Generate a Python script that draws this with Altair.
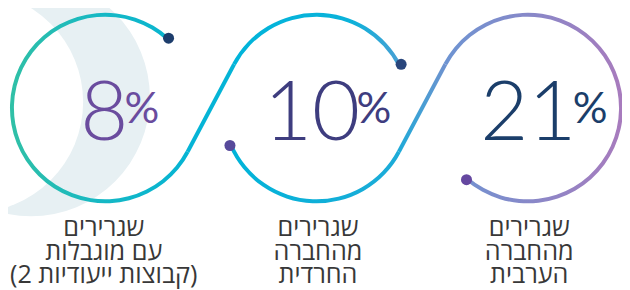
import math
import altair as alt
import pandas as pd

# ---- data (right-to-left order, as in the reference) ----
groups = [
    "שגרירים\nמהחברה\nהערבית",
    "שגרירים\nמהחברה\nהחרדית",
    "שגרירים\nעם מוגבלות\n\u2066(2 קבוצות ייעודיות)\u2069",
]
values = [21, 10, 8]

df = pd.DataFrame({"group": groups, "value": values})

# ---- layout / style constants (page px, shifted by 8px page margin) ----
OFF = 8
CY = 107.5
R = 94.5
CENTERS = [534.5, 320.5, 106.5]
DIGIT_CENTERS = [535, 316, 105.5]
PCT_LEFT = [580, 361, 126]
LABEL_CENTERS = [536, 322, 105]
NUM_COLORS = ["#1B3E6A", "#3E3D7F", "#6A4C9E"]
TEXT_COLOR = "#383838"
PALE = "#E7F0F3"

one = alt.Data(values=[{"k": 0}])


def grad(stops, x1=0, y1=0, x2=1, y2=0):
    return alt.LinearGradient(
        gradient="linear",
        stops=[alt.GradientStop(color=c, offset=o) for o, c in stops],
        x1=x1, y1=y1, x2=x2, y2=y2,
    )


def disk(cx, cy, r, color):
    return alt.Chart(one).mark_arc(
        theta=0, theta2=2 * math.pi, radius=r, fill=color, strokeWidth=0
    ).encode(x=alt.value(cx - OFF), y=alt.value(cy - OFF))


def ring(cx, t0, t1, g):
    return alt.Chart(one).mark_arc(
        theta=math.radians(t0), theta2=math.radians(t1),
        radius=R + 2, radius2=R - 2, fill=g, strokeWidth=0,
    ).encode(x=alt.value(cx - OFF), y=alt.value(CY - OFF))


def polar(cx, ang, r=R):
    a = math.radians(ang)
    return cx + r * math.sin(a), CY - r * math.cos(a)


def dot(cx, ang, color, r=R):
    px, py = polar(cx, ang, r)
    return alt.Chart(one).mark_circle(size=125, color=color, opacity=1).encode(
        x=alt.value(px - OFF), y=alt.value(py - OFF)
    )


half = (CENTERS[1] - CENTERS[2]) / 2
alpha = math.acos(R / half)
tx, ty = R * math.cos(alpha), R * math.sin(alpha)
a_lr = 90 + math.degrees(alpha)     # lower-right tangent point
a_ul = 270 + math.degrees(alpha)    # upper-left tangent point


def link(c_from, c_to, g):
    return alt.Chart(one).mark_rule(strokeWidth=4, stroke=g, strokeCap="butt").encode(
        x=alt.value(c_from + tx - OFF), y=alt.value(CY + ty - OFF),
        x2=alt.value(c_to - tx - OFF), y2=alt.value(CY - ty - OFF),
    )


c_right, c_mid, c_left = CENTERS

layers = [
    disk(31.3, 96.7, 120.4, PALE),
    disk(-28.1, 101.4, 112.2, "#FFFFFF"),
    ring(c_left, a_lr, 402.2, grad([(0, "#30C0A6"), (0.5, "#16B8C4"), (1, "#05B4D4")])),
    link(c_left, c_mid, grad([(0, "#05B4D6"), (1, "#05B4D6")])),
    ring(c_mid, a_ul, 422.7, grad([(0, "#00B4DA"), (0.7, "#0BB2DA"), (1, "#4A9FD4")])),
    ring(c_mid, a_lr, 246.6, grad([(0, "#00B4D9"), (1, "#1DABD8")])),
    link(c_mid, c_right, grad([(0, "#1FAAD8"), (1, "#6F92CF")], x1=0, y1=1, x2=1, y2=0)),
    ring(c_right, a_ul, 580.5, grad([(0, "#6D94D2"), (0.45, "#8689C9"), (1, "#A87BBD")])),
    dot(c_left, 42.2, "#1D3D6C", R + 1),
    dot(c_mid, 62.7, "#29467C", R + 2),
    dot(c_mid, 246.6, "#574A9B", R + 1),
    dot(c_right, 220.5, "#6548A0", R + 1),
]

base = alt.Chart(df).transform_window(idx="row_number()")


def xpos(rng):
    return alt.X("idx:Q", scale=alt.Scale(domain=[1, 2, 3], range=[v - OFF for v in rng]), axis=None)


col = alt.Color("group:N", scale=alt.Scale(domain=groups, range=NUM_COLORS), legend=None)

digits = base.mark_text(
    font="Lato", fontWeight=300, fontSize=84, align="center", baseline="alphabetic"
).encode(x=xpos(DIGIT_CENTERS), y=alt.value(140 - OFF), text=alt.Text("value:Q"), color=col)

pct = base.mark_text(
    font="Lato", fontWeight=400, fontSize=44, align="left", baseline="alphabetic"
).encode(x=xpos(PCT_LEFT), y=alt.value(123 - OFF), text=alt.value("%"), color=col)

labels = base.mark_text(
    font="Open Sans, Liberation Sans, DejaVu Sans", fontSize=25.5, align="center",
    baseline="alphabetic", lineBreak="\n", lineHeight=24, color=TEXT_COLOR,
).encode(x=xpos(LABEL_CENTERS), y=alt.value(237 - OFF), text="group:N")

chart = alt.layer(*layers, digits, pct, labels).resolve_scale(x="independent").properties(
    width=622, height=282, padding=0, autosize=alt.AutoSizeParams(type="none")
).configure_view(stroke=None)

chart.save("out.html", embed_options={"renderer": "svg", "actions": False})
